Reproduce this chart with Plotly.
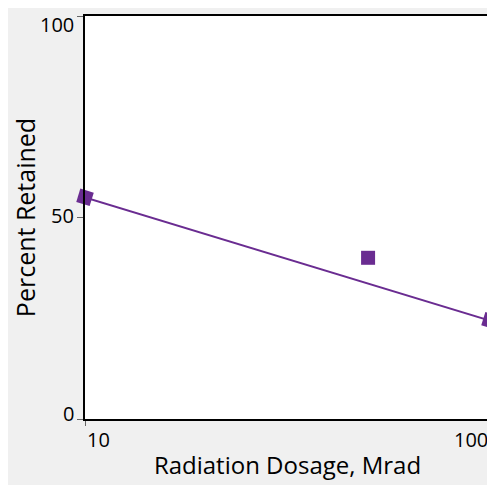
import math
import plotly.graph_objects as go

# Data
fit_x = [10, 100]
fit_y = [55, 24.4]
mid_x = [50]
mid_y = [40]
x_tick_vals = [10, 100]
x_tick_text = ["10", "100"]
y_tick_vals = [0, 50, 100]
y_tick_text = ["0", "50", "100"]

# Styling for label placement
x_label_anchor = ["left", "right"]
y_label_shift = [6, 2, -8]

purple = "#6a2c91"
font_family = "Open Sans, Noto Sans, sans-serif"
label_font = dict(size=20, color="black", family=font_family)

fig = go.Figure()
fig.add_trace(go.Scatter(
    x=fit_x, y=fit_y, mode="lines+markers",
    line=dict(color=purple, width=2),
    marker=dict(symbol="square", size=14, color=purple, angle=17),
    cliponaxis=False, showlegend=False,
))
fig.add_trace(go.Scatter(
    x=mid_x, y=mid_y, mode="markers",
    marker=dict(symbol="square", size=14, color=purple),
    cliponaxis=False, showlegend=False,
))

for v, t, a in zip(x_tick_vals, x_tick_text, x_label_anchor):
    fig.add_annotation(x=math.log10(v), y=0, xref="x", yref="paper", text=t, showarrow=False,
                       xanchor=a, yanchor="top", yshift=-5, font=label_font)

for v, t, s in zip(y_tick_vals, y_tick_text, y_label_shift):
    fig.add_annotation(x=0, y=v, xref="paper", yref="y", text=t, showarrow=False,
                       xanchor="right", yanchor="middle", xshift=-9, yshift=s, font=label_font)

fig.update_layout(
    width=495, height=485,
    paper_bgcolor="#f0f0f0", plot_bgcolor="white",
    margin=dict(l=77, r=13, t=6, b=74),
    font=dict(family=font_family, size=20, color="black"),
    xaxis=dict(type="log", range=[1, 2], tickvals=x_tick_vals, ticktext=x_tick_text,
               showticklabels=False, ticks="outside", ticklen=5, tickcolor="#666",
               showline=True, linecolor="black", linewidth=2, mirror=True,
               showgrid=False, zeroline=False,
               title=dict(text="Radiation Dosage, Mrad", font=dict(size=24), standoff=32)),
    yaxis=dict(range=[0, 100], tickvals=y_tick_vals, ticktext=y_tick_text,
               showticklabels=False, ticks="outside", ticklen=6, tickcolor="#666",
               showline=True, linecolor="black", linewidth=2, mirror=True,
               showgrid=False, zeroline=False,
               title=dict(text="Percent Retained", font=dict(size=25), standoff=46)),
)

fig.write_html("out.html")
